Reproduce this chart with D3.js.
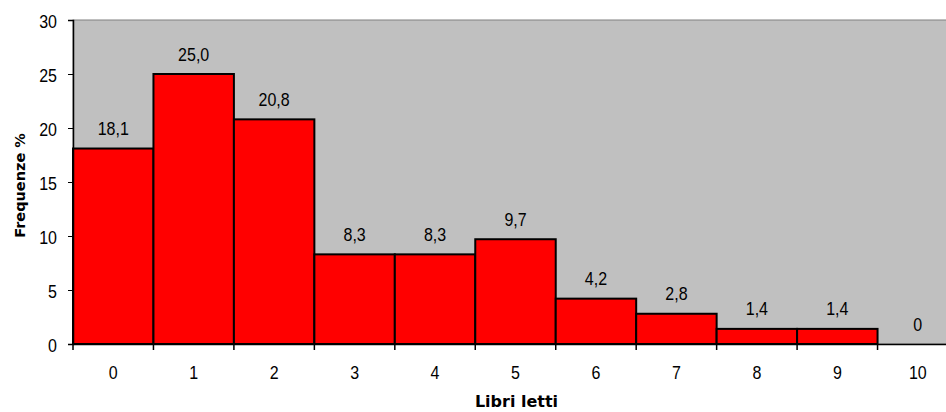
<!DOCTYPE html>
<html><head><meta charset="utf-8">
<script src="https://cdn.jsdelivr.net/npm/d3@7"></script>
<style>body{margin:0;background:#fff;}</style>
</head><body><svg id="c" width="946" height="412"></svg>
<script>
const categories = ["0","1","2","3","4","5","6","7","8","9","10"];
const values = [18.1, 25.0, 20.8, 8.3, 8.3, 9.7, 4.2, 2.8, 1.4, 1.4, 0];
const labels = ["18,1","25,0","20,8","8,3","8,3","9,7","4,2","2,8","1,4","1,4","0"];
const yTicks = [0,5,10,15,20,25,30];

const svg = d3.select("#c");
const pL = 73, pR = 958, pT = 20, pB = 344;
const SY = 1.2; // vertical stretch of glyphs as in the reference
const NUMFONT = "Liberation Sans, Arial, sans-serif";
const x = d3.scaleBand().domain(categories).range([pL, pR]).padding(0);
const y = d3.scaleLinear().domain([0,30]).range([pB, pT]);

svg.append("rect").attr("x", pL).attr("y", pT).attr("width", pR-pL).attr("height", pB-pT)
  .attr("fill", "#c0c0c0").attr("stroke", "#808080").attr("stroke-width", 1);

svg.selectAll("rect.bar").data(values).join("rect").attr("class","bar")
  .attr("x", (d,i)=>x(categories[i])).attr("y", d=>y(d))
  .attr("width", x.bandwidth()).attr("height", d=>pB - y(d))
  .attr("fill", "#ff0000").attr("stroke", "#000").attr("stroke-width", 2);

svg.selectAll("text.val").data(values).join("text").attr("class","val")
  .attr("transform", (d,i)=>`translate(${x(categories[i]) + x.bandwidth()/2},${y(d) - 13.5}) scale(1,${SY})`)
  .attr("text-anchor","middle").style("font-size","16px").style("font-family",NUMFONT).attr("fill","#000")
  .text((d,i)=>labels[i]);

const yAxis = d3.axisLeft(y).tickValues(yTicks).tickSize(5);
const gy = svg.append("g").attr("transform", `translate(${pL},0)`).call(yAxis);
gy.select(".domain").attr("stroke","#000").attr("stroke-width",1.5);
gy.selectAll(".tick text").attr("x",null).attr("y",null).attr("dy",null)
  .attr("transform", `translate(-16,7) scale(1,${SY})`)
  .attr("text-anchor","end").attr("fill","#000").style("font-size","16px").style("font-family",NUMFONT);

const xAxis = d3.axisBottom(x).tickSize(0);
const gx = svg.append("g").attr("transform", `translate(0,${pB})`).call(xAxis);
gx.select(".domain").attr("stroke","#000").attr("stroke-width",1.5);
gx.selectAll(".tick text").attr("x",null).attr("y",null).attr("dy",null)
  .attr("transform", `translate(0,34.5) scale(1,${SY})`)
  .attr("fill","#000").style("font-size","16px").style("font-family",NUMFONT);
const bounds = categories.map(c=>x(c)).concat([pR]);
gx.selectAll("line.bt").data(bounds).join("line").attr("class","bt")
  .attr("x1", d=>d).attr("x2", d=>d).attr("y1",0).attr("y2",6).attr("stroke","#000").attr("stroke-width",1.5);

svg.append("text").attr("x",516.5).attr("y",407).attr("text-anchor","middle")
  .style("font-family","DejaVu Sans").style("font-size","16px").style("font-weight","bold").text("Libri letti");
svg.append("text").attr("transform","translate(25,185.5) rotate(-90)").attr("text-anchor","middle")
  .style("font-family","DejaVu Sans").style("font-size","14.5px").style("font-weight","bold").text("Frequenze %");
</script></body></html>
